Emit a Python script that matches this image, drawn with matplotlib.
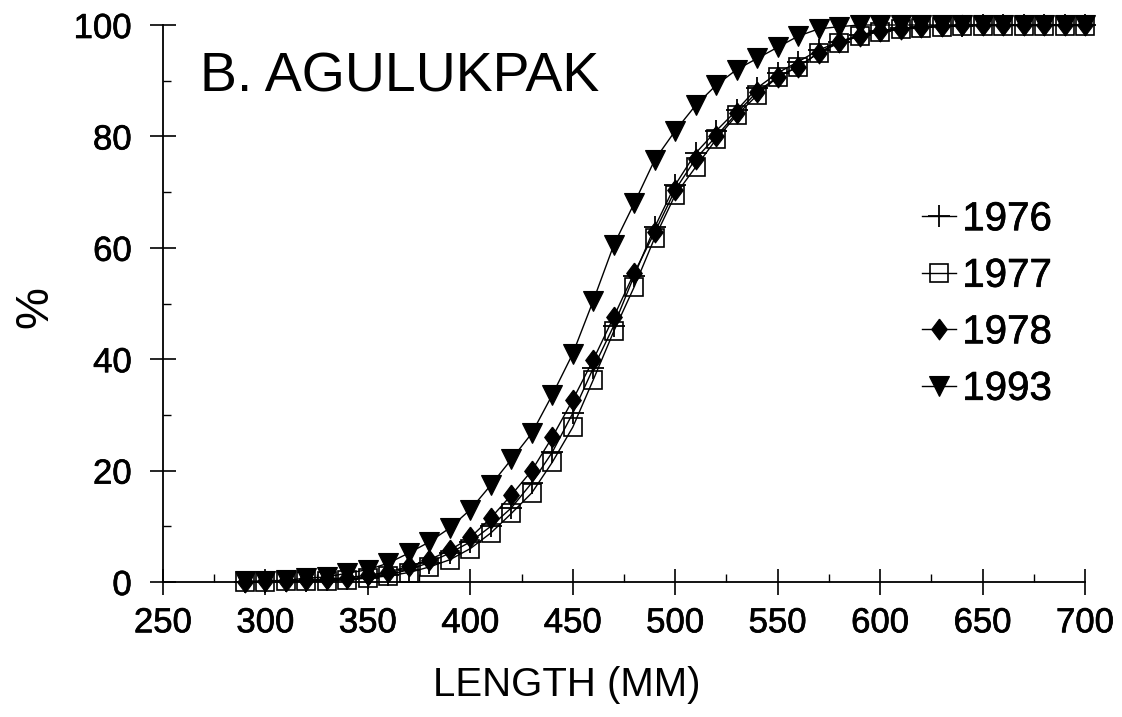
import matplotlib
matplotlib.use("Agg")
import matplotlib.pyplot as plt
import matplotlib.patheffects as pe
from matplotlib.ticker import MultipleLocator

plt.rcParams['font.family'] = ['Liberation Sans', 'DejaVu Sans']

length_mm = list(range(290, 701, 10))

y1976 = [0, 0, 0.1, 0.2, 0.3, 0.5, 0.8, 1.3, 2.2, 3.5, 5.2, 7.2, 10, 13.3, 17.8, 23.3,
         30.3, 38.4, 46, 55, 63.7, 71.3, 77, 81, 84.7, 88.7, 91.4, 93.4, 95.5, 97, 98.2,
         99, 99.4, 99.6, 99.8, 99.9, 100, 100, 100, 100, 100, 100]
y1977 = [0, 0, 0.1, 0.1, 0.2, 0.4, 0.7, 1.1, 1.7, 2.7, 4, 6, 8.8, 12.3, 16, 21.5,
         27.8, 36.3, 45, 53, 61.8, 69.5, 74.5, 79.5, 83.8, 87.4, 90.7, 92.5, 95, 96.8, 98,
         98.8, 99.2, 99.5, 99.7, 99.8, 99.9, 99.9, 99.9, 99.9, 99.9, 99.9]
y1978 = [0, 0.1, 0.2, 0.3, 0.5, 0.8, 1.2, 1.8, 2.8, 4, 5.7, 8, 11.5, 15.6, 20, 26,
         32.7, 39.9, 47.6, 55.5, 62.8, 70.4, 76, 80, 84.2, 88, 90.7, 92.5, 95, 97, 98,
         99, 99.3, 99.6, 99.8, 100, 100, 100, 100, 100, 100, 100]
y1993 = [0.1, 0.2, 0.3, 0.7, 0.9, 1.6, 2.2, 3.4, 5.2, 7.2, 9.7, 13, 17.4, 22, 26.7, 33.6,
         41, 50.5, 60.5, 68, 75.8, 81, 85.6, 89.2, 92, 94, 96, 98, 99.3, 99.7, 100,
         100, 100, 100, 100, 100, 100, 100, 100, 100, 100, 100]

series_labels = ['1976', '1977', '1978', '1993']
x_ticks = [250, 300, 350, 400, 450, 500, 550, 600, 650, 700]
y_ticks = [0, 20, 40, 60, 80, 100]

heavy = [pe.withStroke(linewidth=0.5, foreground='black')]

fig = plt.figure(figsize=(11.22, 7.17), dpi=100)
ax = fig.add_axes([163/1122, 1-582/717, (1085-163)/1122, (582-25)/717])

thin_diamond = [(0, 1), (0.75, 0), (0, -1), (-0.75, 0), (0, 1)]
styles = [
    dict(marker='+', ms=16, mew=1.3, mfc='none', mec='black'),
    dict(marker='s', ms=13.5, mew=1.2, mfc='none', mec='black'),
    dict(marker=thin_diamond, ms=15, mew=0.8, mfc='black', mec='black'),
    dict(marker='v', ms=14, mew=0.8, mfc='black', mec='black'),
]
for yv, lab, st in zip([y1976, y1977, y1978, y1993], series_labels, styles):
    ax.plot(length_mm, yv, color='black', lw=1.0, label=lab, clip_on=False, **st)

ax.set_xlim(250, 700)
ax.set_ylim(0, 100)
ax.set_xticks(x_ticks)
ax.set_yticks(y_ticks)
ax.xaxis.set_minor_locator(MultipleLocator(25))
ax.yaxis.set_minor_locator(MultipleLocator(10))
ax.tick_params(which='major', direction='inout', length=19, width=1.2, labelsize=25)
ax.tick_params(which='minor', direction='in', length=6, width=1.0)
ax.tick_params(axis='x', which='major', pad=8)
ax.tick_params(axis='y', which='major', pad=13)
for s in ['top', 'right']:
    ax.spines[s].set_visible(False)
for s in ['left', 'bottom']:
    ax.spines[s].set_linewidth(1.3)
for lbl in ax.get_xticklabels() + ax.get_yticklabels():
    lbl.set_path_effects(heavy)

fig.text(200/1122, 1-92/717, 'B. AGULUKPAK', fontsize=40, ha='left', va='baseline')
fig.text(567/1122, 1-685/717, 'LENGTH (MM)', ha='center', va='center', fontsize=29)
fig.text(35/1122, 1-307/717, '%', ha='center', va='center', rotation=90, fontsize=34)

leg = ax.legend(loc='center left', bbox_to_anchor=(922/1122, 1-304/717),
                bbox_transform=fig.transFigure, frameon=False, fontsize=29,
                handlelength=0.85, handletextpad=0.15, labelspacing=0.46,
                borderpad=0, borderaxespad=0, numpoints=1)
for t in leg.get_texts():
    t.set_path_effects(heavy)

fig.savefig('out.png', dpi=100)
